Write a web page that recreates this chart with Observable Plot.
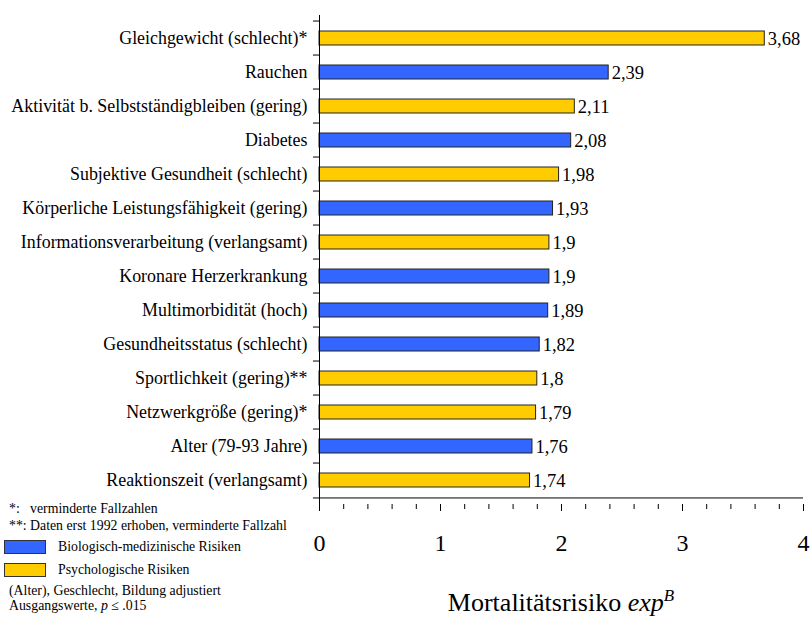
<!DOCTYPE html>
<html>
<head>
<meta charset="utf-8">
<script src="https://cdn.jsdelivr.net/npm/d3@7"></script>
<script src="https://cdn.jsdelivr.net/npm/@observablehq/plot@0.6"></script>
<style>
  html, body { margin: 0; padding: 0; background: #fff; }
  #chart { width: 811px; height: 618px; }
  #chart svg, #chart svg text { font-family: 'Liberation Serif', 'Times New Roman', serif; }
</style>
</head>
<body>
<div id="chart"></div>
<script>
const labels = [
  "Gleichgewicht (schlecht)*",
  "Rauchen",
  "Aktivität b. Selbstständigbleiben (gering)",
  "Diabetes",
  "Subjektive Gesundheit (schlecht)",
  "Körperliche Leistungsfähigkeit (gering)",
  "Informationsverarbeitung (verlangsamt)",
  "Koronare Herzerkrankung",
  "Multimorbidität (hoch)",
  "Gesundheitsstatus (schlecht)",
  "Sportlichkeit (gering)**",
  "Netzwerkgröße (gering)*",
  "Alter (79-93 Jahre)",
  "Reaktionszeit (verlangsamt)"
];
const values = [3.68, 2.39, 2.11, 2.08, 1.98, 1.93, 1.9, 1.9, 1.89, 1.82, 1.8, 1.79, 1.76, 1.74];
const groups = ["psy", "bio", "psy", "bio", "psy", "bio", "psy", "bio", "bio", "bio", "psy", "psy", "bio", "psy"];
const groupNames = ["Biologisch-medizinische Risiken", "Psychologische Risiken"];
const majorTicks = [0, 1, 2, 3, 4];
const minorTicks = [0.2, 0.4, 0.6, 0.8, 1.2, 1.4, 1.6, 1.8, 2.2, 2.4, 2.6, 2.8, 3.2, 3.4, 3.6, 3.8];
const notes = [
  "*:   verminderte Fallzahlen",
  "**: Daten erst 1992 erhoben, verminderte Fallzahl"
];
const footnotes = ["(Alter), Geschlecht, Bildung adjustiert"];

const colors = {bio: "#3366FF", psy: "#FFCC00"};
const data = labels.map((l, i) => ({label: l, value: values[i], group: groups[i]}));
const font = "Liberation Serif";

const W = 811, H = 618, mt = 15, mb = 114, ml = 319, mr = 8;
const step = (H - mt - mb) / labels.length;

const plot = Plot.plot({
  width: W, height: H,
  marginTop: mt, marginBottom: mb, marginLeft: ml, marginRight: mr,
  style: {fontFamily: font, background: "#fff", color: "#000"},
  x: {domain: [0, 4], axis: null},
  y: {domain: labels, paddingInner: 0.58, paddingOuter: 0.29, axis: null},
  marks: [
    Plot.barX(data, {x: "value", y: "label", fill: d => colors[d.group], stroke: "#222", strokeWidth: 1}),
    Plot.text(data, {x: "value", y: "label", text: d => String(d.value).replace(".", ","),
      textAnchor: "start", dx: 3, dy: 1, fontSize: 18.5, fontFamily: font, fill: "#000"}),
    Plot.text(data, {x: 0, y: "label", text: "label", textAnchor: "end", dx: -12, dy: 0,
      fontSize: 17.9, fontFamily: font, fill: "#000"}),
    Plot.ruleX([0], {stroke: "#000", strokeWidth: 1}),
    Plot.ruleY(labels, {y: d => d, x1: -0.05, x2: 0, dy: -step / 2, stroke: "#000"}),
    Plot.ruleY([labels[labels.length - 1]], {y: d => d, x1: -0.05, x2: 4, dy: step / 2, stroke: "#000"}),
    Plot.axisX({ticks: majorTicks, tickSize: 7, tickPadding: 22, fontSize: 24, fontFamily: font, label: null,
      tickFormat: d => String(d), stroke: "#000", fill: "#000"}),
    Plot.axisX({ticks: minorTicks, tickSize: 5, label: null, tickFormat: () => "", stroke: "#000"})
  ]
});

document.getElementById("chart").appendChild(plot);

const svg = d3.select(plot);
const cx = ml + (W - ml - mr) / 2;
const title = svg.append("text")
  .attr("x", cx).attr("y", 611)
  .attr("text-anchor", "middle")
  .attr("font-family", font).attr("font-size", 26).attr("fill", "#000");
title.append("tspan").text("Mortalitätsrisiko ");
title.append("tspan").attr("font-style", "italic").text("exp");
title.append("tspan").attr("font-style", "italic").attr("font-size", 17).attr("dy", -10).text("B");

const fs = 13.8;
const leg = svg.append("g").attr("font-family", font).attr("fill", "#000").attr("text-anchor", "start");
leg.append("text").attr("x", 9).attr("y", 513).attr("font-size", fs).text(notes[0]);
leg.append("text").attr("x", 9).attr("y", 530).attr("font-size", fs).text(notes[1]);
leg.append("rect").attr("x", 4.5).attr("y", 540.5).attr("width", 41).attr("height", 13)
  .attr("fill", colors.bio).attr("stroke", "#333");
leg.append("text").attr("x", 58).attr("y", 551).attr("font-size", fs).text(groupNames[0]);
leg.append("rect").attr("x", 4.5).attr("y", 563.5).attr("width", 41).attr("height", 13)
  .attr("fill", colors.psy).attr("stroke", "#333");
leg.append("text").attr("x", 58).attr("y", 574).attr("font-size", fs).text(groupNames[1]);
leg.append("text").attr("x", 9).attr("y", 595).attr("font-size", fs).text(footnotes[0]);
const last = leg.append("text").attr("x", 9).attr("y", 610).attr("font-size", fs);
last.append("tspan").text("Ausgangswerte, ");
last.append("tspan").attr("font-style", "italic").text("p");
last.append("tspan").text(" ≤ .015");
</script>
</body>
</html>
